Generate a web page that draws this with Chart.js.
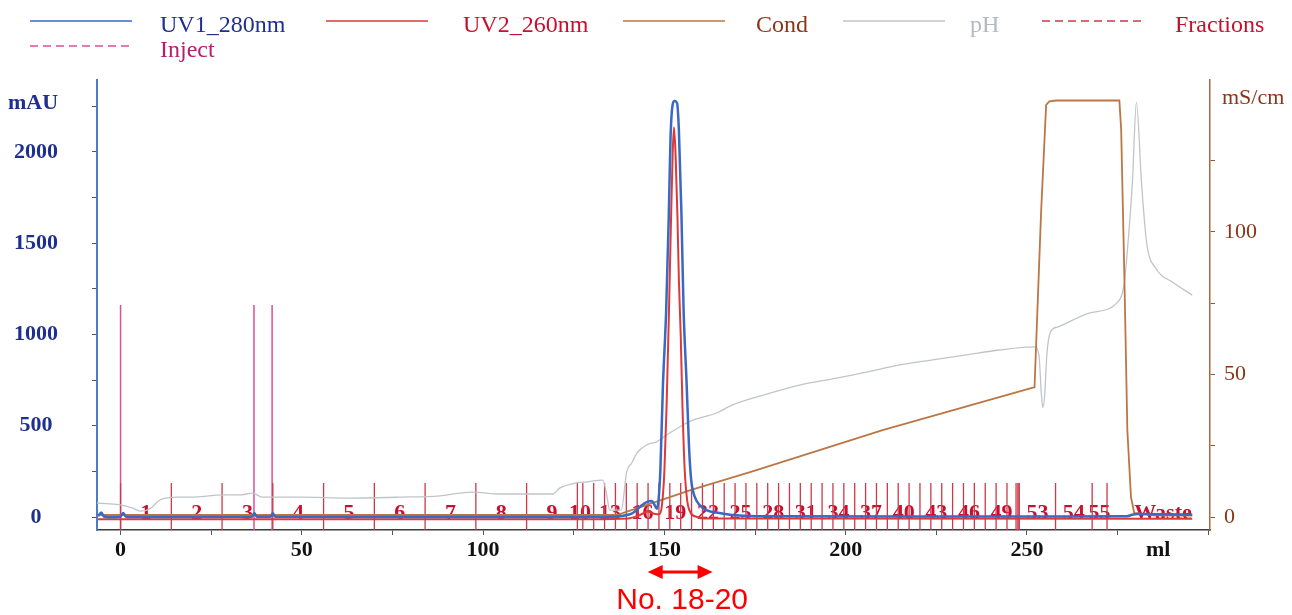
<!DOCTYPE html>
<html>
<head>
<meta charset="utf-8">
<script src="https://cdn.jsdelivr.net/npm/chart.js@4.4.1/dist/chart.umd.min.js"></script>
<style>
  html, body { margin: 0; background: #fff; }
  #wrap { position: relative; width: 1292px; height: 615px; }
  #legend { position: absolute; left: 0; top: 0; width: 1292px; height: 70px;
            font-family: "Liberation Serif", "Times New Roman", serif; font-size: 24px; }
  .key { position: absolute; height: 24px; width: 400px; }
  .key svg { position: absolute; left: 0; top: 0; }
  .key span { position: absolute; top: 2px; line-height: 24px; white-space: nowrap; }
</style>
</head>
<body>
<div id="wrap">
  <canvas id="chart"></canvas>
  <div id="legend"></div>
</div>
<script>
// Run data: [ml, value]
const uv1 = [[-6.2,5],[-5.3,25],[-4.6,3],[-2,-2],[0,2],[0.7,22],[1.5,2],[5,0],
  [36.2,1],[36.9,22],[37.6,1],[41.3,1],[42.0,20],[42.7,1],[80,0],[130,0],
  [137,3],[140,12],[141.5,25],[143.2,55],[145.1,82],[146.5,88],[147.3,66],[147.9,45],
  [148.4,95],[148.9,260],[149.6,720],[150.5,1134],[151.2,1640],[151.7,2080],[152.3,2262],
  [152.8,2280],[153.5,2268],[154.0,2120],[154.7,1666],[155.3,1134],[156.1,750],[156.8,384],
  [157.4,203],[158.4,110],[159.7,66],[161.6,38],[165.2,22],[168.8,11],[180,4],[220,3],
  [260,3],[277.5,4],[279.0,12],[280.5,16],[288,15],[295.6,12]];

const uv2 = [[-6.2,-12],[130,-12],[140,-8],[143,8],[145.5,30],[147.2,18],[148.6,15],
  [149.3,60],[150.0,250],[150.6,600],[151.2,1070],[151.8,1600],[152.3,2000],[152.65,2135],
  [153.1,1980],[153.6,1650],[154.0,1300],[154.5,1000],[155.0,600],[155.6,260],[156.3,90],
  [157.2,25],[159,0],[161,-8],[295.6,-10]];

const cond = [[-6.2,0.7],[136.9,0.7],[157.4,9.5],[174.3,16],[210.2,30.5],[251.4,45.3],
  [252.1,45.5],[253.9,106.6],[255.3,144.6],[256.2,145.8],[258,146.1],[275.5,146.1],
  [276.0,135.8],[276.9,83.2],[277.7,30.5],[278.7,7],[279.6,1.4],[285,0.6],[295.6,0.5]];

const ph = [[-6.5,2.60],[-2.9,2.58],[-0.1,2.56],[3.2,2.49],[5.4,2.42],[8.1,2.47],[10.9,2.67],
  [15.6,2.73],[19.2,2.73],[28.3,2.78],[32.9,2.78],[36.5,2.82],[39.0,2.73],[49.5,2.73],
  [63.2,2.71],[77.0,2.73],[88.1,2.76],[93.6,2.82],[97.2,2.84],[104.6,2.80],[119.2,2.80],
  [121.1,2.93],[125.3,3.04],[128.6,3.07],[133.0,3.11],[134.1,2.78],[134.9,2.44],[138.1,2.44],
  [139.6,3.29],[141.0,3.49],[142.4,3.71],[145.1,3.89],[147.9,3.96],[150.6,4.11],[154.2,4.29],
  [157.8,4.44],[164.4,4.60],[168.8,4.78],[178.2,5.02],[187.3,5.22],[196.4,5.36],[205.8,5.51],
  [214.9,5.67],[224.0,5.78],[233.3,5.89],[242.4,6.00],[252.1,6.07],[253.3,5.90],[254.0,5.00],
  [254.4,4.72],[254.9,5.00],[255.5,5.90],[256.5,6.40],[258.4,6.51],[267.2,6.82],[275.5,7.11],
  [276.9,7.51],[277.9,8.40],[279.1,9.73],[280.2,11.51],[281.6,9.73],[283.0,8.40],[285.7,7.80],
  [290.1,7.51],[295.6,7.22]];

// Fraction collector marks (start ml of each tube)
const fractionNames = ['1','2','3','4','5','6','7','8','9','10','11','12','13','14','15','16',
  '17','18','19','20','21','22','23','24','25','26','27','28','29','30','31','32','33','34',
  '35','36','37','38','39','40','41','42','43','44','45','46','47','48','49','50','51','52',
  '53','54','55','Waste'];
const fractionStarts = [0,14,28,42,56,70,84,98,112,126,127.5,130.5,133.5,136.5,139.5,142.5,
  145.5,148.5,151.5,154.5,157.5,160.5,163.5,166.5,169.5,172.5,175.5,178.5,181.5,184.5,187.5,
  190.5,193.5,196.5,199.5,202.5,205.5,208.5,211.5,214.5,217.5,220.5,223.5,226.5,229.5,232.5,
  235.5,238.5,241.5,244.5,247.0,247.5,247.9,257.9,268.0,272.1];
const fractionEnd = 303;
const shownFractions = ['1','2','3','4','5','6','7','8','9','10','13','16','19','22','25','28',
  '31','34','37','40','43','46','49','53','54','55','Waste'];
const fractionMarkTop = 187;

const injectMl = [0, 36.8, 41.8];
const injectTop = 1162;

const xTicks = [0,25,50,75,100,125,150,175,200,225,250,275,300];
const mauTicks = [0,250,500,750,1000,1250,1500,1750,2000,2250];
const condTicks = [0,25,50,75,100,125];

const pooled = [145.4, 163.3];
const pooledLabel = 'No. 18-20';

const SERIF = '"Liberation Serif", "Times New Roman", serif';
const Y_MIN = -71.2;

const pts = arr => arr.map(([x, y]) => ({ x, y }));
const marks = (xs, top) => xs.flatMap(x => [{ x, y: Y_MIN }, { x, y: top }, { x, y: null }]);

const overlay = {
  id: 'overlay',
  beforeDatasetsDraw(chart) {
    const { ctx, scales: { x, y } } = chart;
    ctx.save();
    ctx.font = 'bold 22px ' + SERIF;
    ctx.fillStyle = '#c8102e';
    ctx.textAlign = 'center';
    ctx.textBaseline = 'middle';
    const ty = y.getPixelForValue(0) - 4;
    fractionNames.forEach((name, i) => {
      if (!shownFractions.includes(name)) return;
      const end = i + 1 < fractionStarts.length ? fractionStarts[i + 1] : fractionEnd;
      ctx.fillText(name, x.getPixelForValue((fractionStarts[i] + end) / 2), ty);
    });
    ctx.restore();
  },
  afterDraw(chart) {
    const { ctx, chartArea: a, scales: { x } } = chart;
    ctx.save();
    ctx.textBaseline = 'middle';
    // unit labels
    ctx.font = 'bold 22px ' + SERIF;
    ctx.fillStyle = '#1f2f8f';
    ctx.textAlign = 'center';
    ctx.fillText('mAU', 33, a.top + 23);
    ctx.fillStyle = '#8a3418';
    ctx.textAlign = 'left';
    ctx.font = '22px ' + SERIF;
    ctx.fillText('mS/cm', a.right + 12, a.top + 18);
    ctx.font = 'bold 22px ' + SERIF;
    ctx.fillStyle = '#111';
    ctx.textAlign = 'center';
    ctx.fillText('ml', x.getPixelForValue(286.2), a.bottom + 20);

    // pooled fractions arrow
    const x1 = x.getPixelForValue(pooled[0]);
    const x2 = x.getPixelForValue(pooled[1]);
    const ay = a.bottom + 42;
    ctx.strokeStyle = '#ff0000';
    ctx.fillStyle = '#ff0000';
    ctx.lineWidth = 3;
    ctx.beginPath();
    ctx.moveTo(x1 + 10, ay);
    ctx.lineTo(x2 - 10, ay);
    ctx.stroke();
    ctx.beginPath();
    ctx.moveTo(x1, ay); ctx.lineTo(x1 + 15, ay - 7); ctx.lineTo(x1 + 15, ay + 7); ctx.closePath();
    ctx.moveTo(x2, ay); ctx.lineTo(x2 - 15, ay - 7); ctx.lineTo(x2 - 15, ay + 7); ctx.closePath();
    ctx.fill();
    ctx.font = '30px "Liberation Sans", Arial, sans-serif';
    ctx.fillText(pooledLabel, (x1 + x2) / 2 + 2, a.bottom + 71);
    ctx.restore();
  }
};

const datasets = [
  { label: 'UV1_280nm', data: pts(uv1), yAxisID: 'y', borderColor: '#3a68c2', borderWidth: 2.5,
    order: 0, textColor: '#1f2f8f' },
  { label: 'UV2_260nm', data: pts(uv2), yAxisID: 'y', borderColor: '#dc3a3a', borderWidth: 2,
    order: 1, textColor: '#c8102e' },
  { label: 'Cond', data: pts(cond), yAxisID: 'y2', borderColor: '#bb7646', borderWidth: 1.8,
    tension: 0, order: 2, textColor: '#8a3418' },
  { label: 'pH', data: pts(ph), yAxisID: 'yph', borderColor: '#c0c4ca', borderWidth: 1.3,
    order: 3, textColor: '#b4b8c0' },
  { label: 'Fractions', data: marks(fractionStarts, fractionMarkTop), yAxisID: 'y',
    borderColor: '#cc3a4a', borderWidth: 1.3, tension: 0, order: 4, textColor: '#c8102e', dash: true },
  { label: 'Inject', data: marks(injectMl, injectTop), yAxisID: 'y',
    borderColor: '#d9509a', borderWidth: 1.5, tension: 0, order: 5, textColor: '#b3206f', dash: true }
];
datasets.forEach(d => {
  d.pointRadius = 0;
  d.fill = false;
  if (d.tension === undefined) d.cubicInterpolationMode = 'monotone';
});

// legend: sample line start, text start, row top
const legendSlots = [[30, 160, 10], [326, 463, 10], [623, 756, 10], [843, 970, 10], [1042, 1175, 10], [30, 160, 35]];
const legendBox = document.getElementById('legend');
datasets.forEach((d, i) => {
  const [sx, tx, ty] = legendSlots[i];
  const key = document.createElement('div');
  key.className = 'key';
  key.style.left = sx + 'px';
  key.style.top = ty + 'px';
  key.innerHTML = `<svg width="104" height="24"><line x1="0" y1="11" x2="102" y2="11"
      stroke="${d.borderColor}" stroke-width="1.6" ${d.dash ? 'stroke-dasharray="8 5"' : ''}/></svg>
    <span style="left:${tx - sx}px;color:${d.textColor}">${d.label}</span>`;
  legendBox.appendChild(key);
});

const fixTicks = values => scale => { scale.ticks = values.map(v => ({ value: v })); };

new Chart(document.getElementById('chart'), {
  type: 'line',
  data: { datasets },
  plugins: [overlay],
  options: {
    responsive: true,
    maintainAspectRatio: false,
    animation: false,
    layout: { padding: { top: 80 } },
    plugins: { legend: { display: false }, tooltip: { enabled: false } },
    scales: {
      x: {
        type: 'linear', min: -6.5, max: 300.5,
        afterBuildTicks: fixTicks(xTicks),
        afterFit: s => { s.height = 85; },
        border: { color: '#3a3a3a', width: 1.5 },
        grid: { drawOnChartArea: false, tickLength: 5, tickColor: '#555' },
        ticks: {
          autoSkip: false, maxRotation: 0, padding: 2, color: '#111',
          font: { family: SERIF, size: 22, weight: 'bold' },
          callback: v => (v % 50 === 0 && v < 300) ? String(v) : ''
        }
      },
      y: {
        position: 'left', min: Y_MIN, max: 2394.5,
        afterBuildTicks: fixTicks(mauTicks),
        afterFit: s => { s.width = 97; },
        border: { color: '#4a7cc8', width: 2 },
        grid: { drawOnChartArea: false, tickLength: 5, tickColor: '#555' },
        ticks: {
          crossAlign: 'center', padding: 34, color: '#1f2f8f',
          font: { family: SERIF, size: 22, weight: 'bold' },
          callback: v => v % 500 === 0 ? String(v) : ''
        }
      },
      y2: {
        position: 'right', min: -4.56, max: 153.3,
        afterBuildTicks: fixTicks(condTicks),
        afterFit: s => { s.width = 82; },
        border: { color: '#a86a3c', width: 1.5 },
        grid: { drawOnChartArea: false, tickLength: 5, tickColor: '#8a5a3a' },
        ticks: {
          padding: 9, color: '#8a3418',
          font: { family: SERIF, size: 22 },
          callback: v => v % 50 === 0 ? String(v) : ''
        }
      },
      yph: { display: false, min: 2, max: 12 }
    }
  }
});
</script>
</body>
</html>
